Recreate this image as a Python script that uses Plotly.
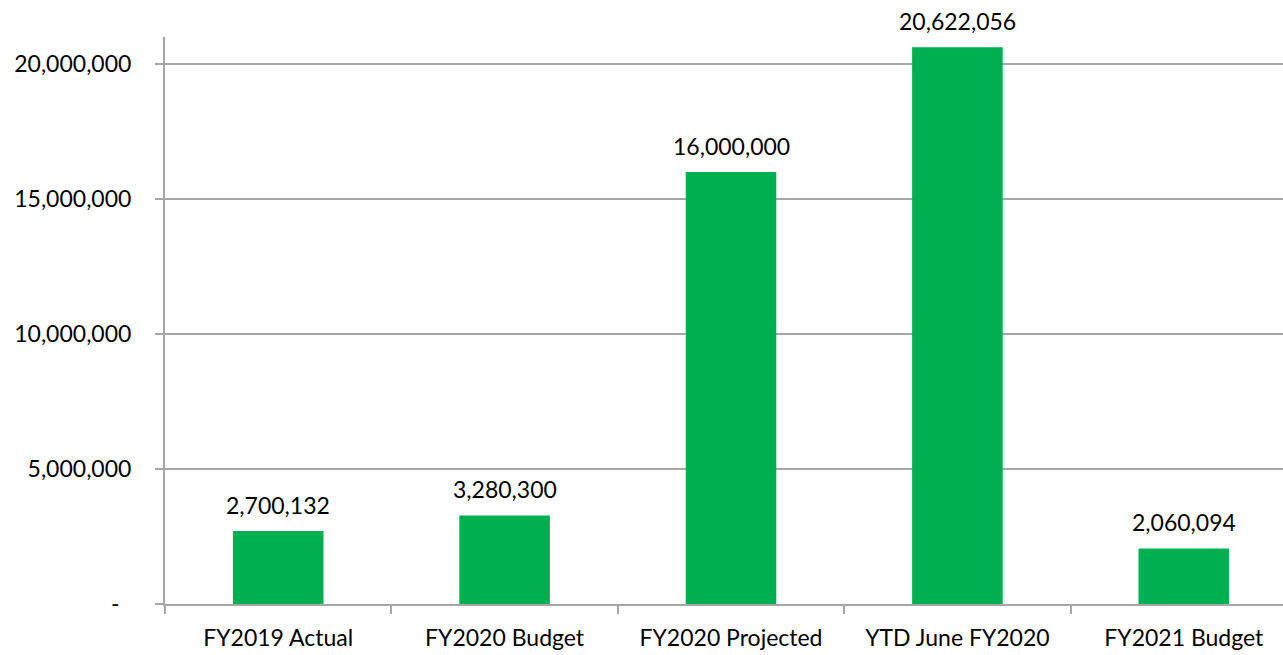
import plotly.graph_objects as go

categories = ["FY2019 Actual", "FY2020 Budget", "FY2020 Projected", "YTD June FY2020", "FY2021 Budget"]
values = [2700132, 3280300, 16000000, 20622056, 2060094]
y_tickvals = [0, 5000000, 10000000, 15000000, 20000000]
y_ticktext = ["-\u00a0\u00a0", "5,000,000", "10,000,000", "15,000,000", "20,000,000"]

GREEN = "#00B050"
GRID = "#A6A6A6"
FONT = dict(family="Lato, 'Open Sans', sans-serif", size=23, color="#000000")

fig = go.Figure()
fig.add_trace(go.Bar(
    x=categories, y=values,
    marker=dict(color=GREEN, line=dict(width=0)),
    width=0.4,
    hoverinfo="x+y",
))

# value labels above each bar
for cat, val in zip(categories, values):
    fig.add_annotation(
        x=cat, y=val, text=f"{val:,}",
        showarrow=False, yanchor="bottom", yshift=10,
        font=FONT,
    )

# the original chart runs a little past the right edge of the window
fig.update_layout(
    width=1297, height=655,
    margin=dict(l=165, r=0, t=37, b=51),
    paper_bgcolor="white", plot_bgcolor="white",
    font=FONT,
    showlegend=False,
)
fig.update_xaxes(
    type="category",
    showline=True, linecolor=GRID, linewidth=2,
    ticks="outside", tickson="boundaries", ticklen=8, tickcolor=GRID, tickwidth=2,
    showgrid=False,
    ticklabelstandoff=12,
    tickfont=FONT,
)
fig.update_yaxes(
    range=[0, 21000000],
    tickvals=y_tickvals, ticktext=y_ticktext,
    showline=True, linecolor=GRID, linewidth=2,
    ticks="outside", ticklen=8, tickcolor=GRID, tickwidth=2,
    showgrid=True, gridcolor=GRID, gridwidth=2,
    zeroline=False,
    ticklabelstandoff=19,
    tickfont=FONT,
)

# drop the default page margin so the figure starts at the window corner
fig.write_html(
    "out.html",
    config={"displayModeBar": False},
    post_script="document.body.style.margin='0';document.body.style.overflow='hidden';",
)
